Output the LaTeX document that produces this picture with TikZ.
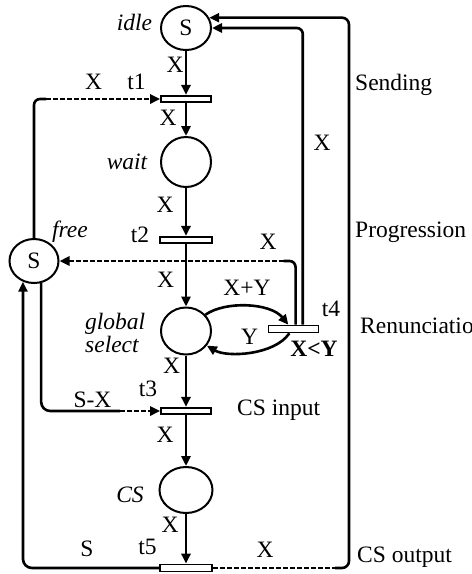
\documentclass[tikz,border=0pt]{standalone}
\usepackage{fontspec}
\setmainfont{Liberation Serif}
\usetikzlibrary{arrows.meta,shapes.geometric,calc}
\begin{document}
\begin{tikzpicture}[x=1pt,y=1pt,
  every node/.style={font=\fontsize{23.5}{23}\selectfont},
  place/.style={draw, ellipse, line width=2pt, inner sep=0pt, minimum width=50pt, minimum height=46pt},
  trans/.style={draw, fill=white, rectangle, line width=1.6pt, inner sep=0pt, minimum width=50pt, minimum height=6.5pt},
  arc/.style={line width=2.6pt, -{Triangle[length=10pt,width=9pt]}},
  arcline/.style={line width=2.6pt},
  dsh/.style={dash pattern=on 5pt off 2pt},
  lab/.style={inner sep=0pt, text height=15.5pt, text depth=0pt},
  note/.style={lab, anchor=west}]
\useasboundingbox (0,0) rectangle (472,-574);
% places
\node[place, minimum height=44pt] (idle) at (186,-28) {S};
\node[place, minimum height=50pt] (wait) at (186,-162) {};
\node[place, minimum height=47pt] (global) at (186,-331) {};
\node[place, minimum width=53pt] (cs) at (186,-490) {};
\node[place, minimum width=49pt, minimum height=44pt] (free) at (34,-261) {S};
% transitions
\node[trans] (t1) at (186,-99) {};
\node[trans, minimum width=52pt] (t2) at (186,-240) {};
\node[trans] (t3) at (186,-411) {};
\node[trans, minimum height=7pt] (t4) at (293.5,-329) {};
\node[trans, minimum width=52pt, minimum height=7pt] (t5) at (186,-568) {};
% helper coordinates
\coordinate (t4in) at ($(t4.north west)!0.4!(t4.north east)$);
\coordinate (t4f) at ($(t4.north west)!0.54!(t4.north east)$);
\coordinate (t4i) at ($(t4.north west)!0.68!(t4.north east)$);
\coordinate (t4out) at ($(t4.south west)!0.42!(t4.south east)$);
\coordinate (ox) at (349,0);
\coordinate (s1) at ($(free.north |- t1.west)+(12,0)$);
\coordinate (s4) at ($(t4f |- free.east)+(-12,0)$);
\coordinate (s3) at ($(t3.west)+(-40,0)$);
\coordinate (s5) at ($(t5.east -| ox)+(-14,0)$);
% main column
\draw[arc] (idle.south) -- (t1.north);
\draw[arc] (t1.south) -- (wait.north);
\draw[arc] (wait.south) -- (t2.north);
\draw[arc] (t2.south) -- (global.north);
\draw[arc] (global.south) -- (t3.north);
\draw[arc] (t3.south) -- (cs.north);
\draw[arc] (cs.south) -- (t5.north);
% free -> t1
\draw[arcline, rounded corners=6pt] (free.north) -- (free.north |- t1.west) -- (s1);
\draw[arc, dsh] (s1) -- (t1.west);
% t4 -> free
\draw[arcline, rounded corners=6pt] (t4f) -- (t4f |- free.east) -- (s4);
\draw[arc, dsh] (s4) -- (free.east);
% t4 -> idle
\draw[arc, rounded corners=6pt] (t4i) -- (t4i |- idle.east) -- (idle.east);
% t5 -> idle (outer)
\draw[arcline, dsh] (t5.east) -- (s5);
\draw[arc, rounded corners=7pt] (s5) -- (t5.east -| ox) -- (ox |- idle.24) -- (idle.24);
% t5 -> free
\draw[arc, rounded corners=9pt] (t5.west) -- (t5.west -| free.-118) -- (free.-118);
% free -> t3
\draw[arcline, rounded corners=9pt] (free.-72) -- (free.-72 |- t3.west) -- (s3);
\draw[arc, dsh] (s3) -- (t3.west);
% loop global <-> t4
\draw[arc] (global.40) .. controls +(20,14) and +(-18,22) .. (t4in);
\draw[arc] (t4out) .. controls +(-15,-22) and +(20,-12) .. (global.-35);
% redraw transitions on top
\node[trans] at (t1) {};
\node[trans, minimum width=52pt] at (t2) {};
\node[trans] at (t3) {};
\node[trans, minimum height=7pt] at (t4) {};
\node[trans, minimum width=52pt, minimum height=7pt] at (t5) {};
% labels
\node[lab, font=\fontsize{23.5}{23}\selectfont\itshape] (lidle) at (134.5,-22.5) {idle};
\node[lab] (x1) at (175,-65) {X};
\node[lab] (x2) at (93.5,-82) {X};
\node[lab] (lt1) at (136.5,-82) {t1};
\node[lab] (x3) at (168,-117.5) {X};
\node[lab, font=\fontsize{23.5}{23}\selectfont\itshape] (lwait) at (127,-162) {wait};
\node[lab] (x4) at (165,-204.5) {X};
\node[lab] (lt2) at (140,-235) {t2};
\node[lab, font=\fontsize{23.5}{23}\selectfont\itshape] (lfree) at (70,-230) {free};
\node[lab] (x5) at (165.5,-279.5) {X};
\node[lab] (x6) at (268,-241.5) {X};
\node[lab] (xy) at (247,-287.5) {X+Y};
\node[lab] (lt4) at (331,-309) {t4};
\node[lab] (ly) at (249.5,-337) {Y};
\node[lab, font=\fontsize{23.5}{23}\selectfont\bfseries] (cond) at (314,-349) {X<Y};
\node[inner sep=0pt, anchor=west, align=left, font=\fontsize{23.5}{23}\selectfont\itshape] (lglobal) at (85,-332.5) {global\\select};
\node[lab] (x7) at (171.5,-365.5) {X};
\node[lab] (sx) at (92.5,-400) {S-X};
\node[lab] (lt3) at (148,-389) {t3};
\node[lab] (x8) at (165,-435) {X};
\node[lab, font=\fontsize{23.5}{23}\selectfont\itshape] (lcs) at (130,-495) {CS};
\node[lab] (x9) at (170,-525) {X};
\node[lab] (ls) at (87,-548.5) {S};
\node[lab] (lt5) at (147.5,-547) {t5};
\node[lab] (x10) at (265,-549.5) {X};
\node[lab] (x11) at (322,-142.5) {X};
\node[note] (nsend) at (355,-82.5) {Sending};
\node[note] (nprog) at (355,-229.5) {Progression};
\node[note] (nren) at (360,-325.5) {Renunciation};
\node[note] (ncsin) at (237,-408) {CS input};
\node[note] (ncsout) at (357,-555) {CS output};
\end{tikzpicture}
\end{document}
